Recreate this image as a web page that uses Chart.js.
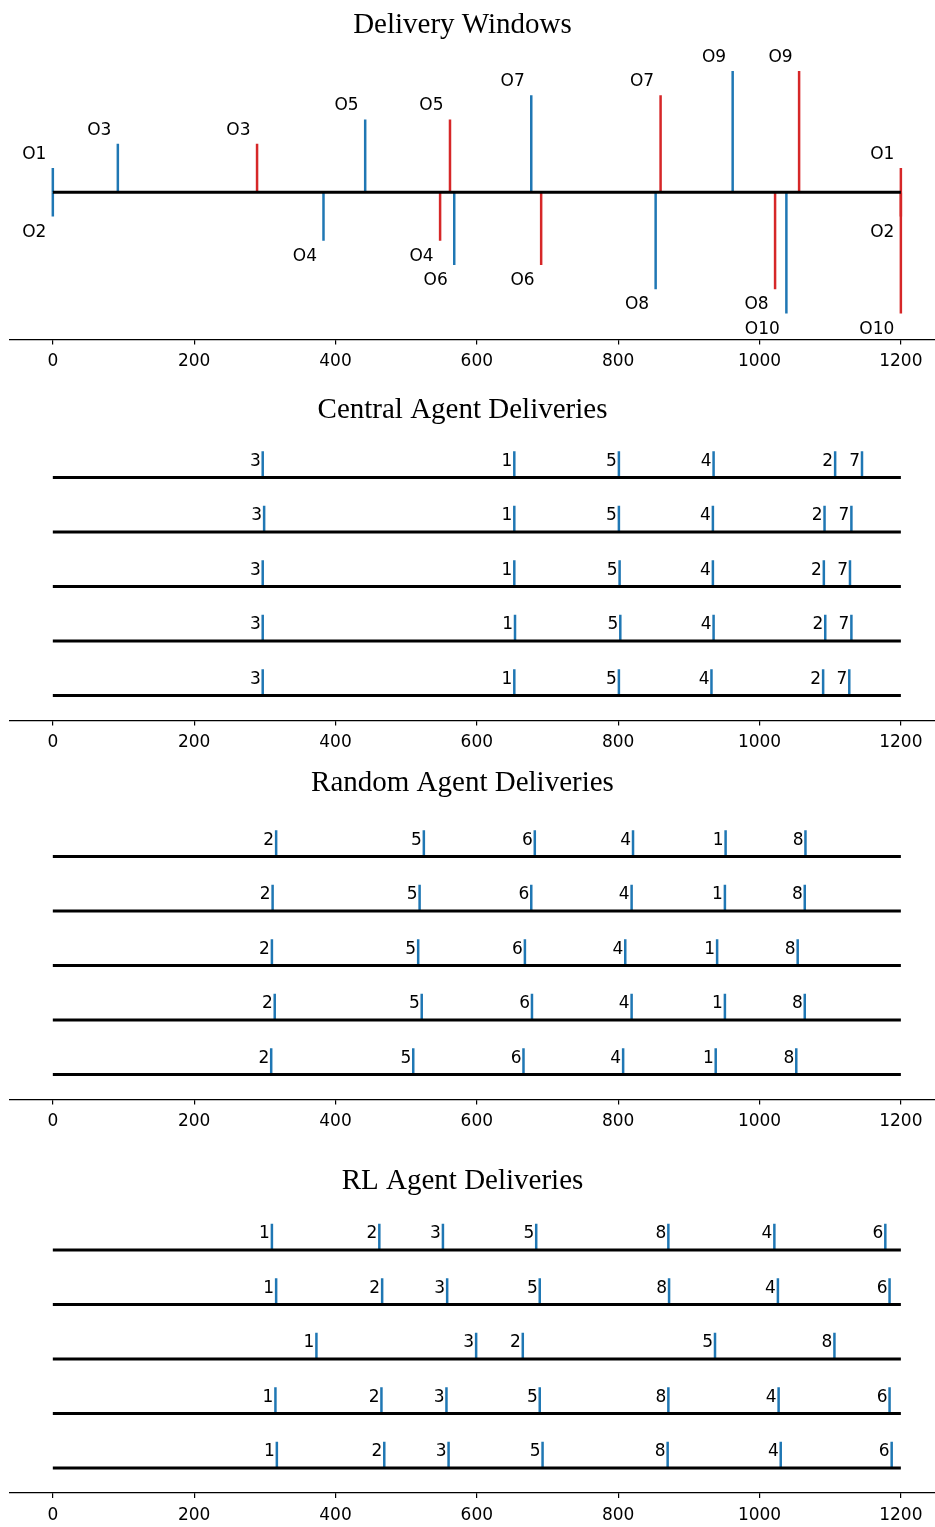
<!DOCTYPE html>
<html>
<head>
<meta charset="utf-8">
<script src="https://cdn.jsdelivr.net/npm/chart.js@4.4.1/dist/chart.umd.min.js"></script>
<style>
  html, body { margin: 0; padding: 0; background: #fff; overflow: hidden; }
  #page { position: relative; width: 935px; height: 1527px; overflow: hidden; }
  #page canvas { position: absolute; left: 0; }
</style>
</head>
<body>
<div id="page">
  <canvas id="windows"></canvas>
  <canvas id="central"></canvas>
  <canvas id="random"></canvas>
  <canvas id="rl"></canvas>
</div>
<script>
const BLUE = `#1f77b4`;
const RED = `#d62728`;

// x axis
const xTicks = [0, 200, 400, 600, 800, 1000, 1200];
const timeStart = 0;
const timeEnd = 1200;

// delivery windows: opening (blue) and closing (red) time of every order
const windowOrders = [`O1`, `O2`, `O3`, `O4`, `O5`, `O6`, `O7`, `O8`, `O9`, `O10`];
const windowLevels = [1, -1, 2, -2, 3, -3, 4, -4, 5, -5];
const windowStart = [0, 0, 92, 383, 442, 568, 677, 853, 962, 1038];
const windowEnd = [1200, 1200, 289, 548, 562, 691, 860, 1022, 1056, 1200];

// central agent: five runs, order id and delivery time
const centralOrders = [
  [3, 1, 5, 4, 2, 7],
  [3, 1, 5, 4, 2, 7],
  [3, 1, 5, 4, 2, 7],
  [3, 1, 5, 4, 2, 7],
  [3, 1, 5, 4, 2, 7]
];
const centralTimes = [
  [297, 653, 801, 935, 1107, 1145],
  [299, 653, 801, 934, 1092, 1130],
  [297, 653, 802, 934, 1091, 1128],
  [297, 654, 803, 935, 1093, 1130],
  [297, 653, 801, 932, 1090, 1127]
];

// random agent
const randomOrders = [
  [2, 5, 6, 4, 1, 8],
  [2, 5, 6, 4, 1, 8],
  [2, 5, 6, 4, 1, 8],
  [2, 5, 6, 4, 1, 8],
  [2, 5, 6, 4, 1, 8]
];
const randomTimes = [
  [316, 525, 682, 821, 952, 1065],
  [311, 519, 677, 819, 951, 1064],
  [310, 517, 668, 810, 940, 1054],
  [314, 522, 678, 819, 951, 1064],
  [309, 510, 666, 807, 938, 1052]
];

// RL agent
const rlOrders = [
  [1, 2, 3, 5, 8, 4, 6],
  [1, 2, 3, 5, 8, 4, 6],
  [1, 3, 2, 5, 8],
  [1, 2, 3, 5, 8, 4, 6],
  [1, 2, 3, 5, 8, 4, 6]
];
const rlTimes = [
  [310, 462, 552, 684, 871, 1021, 1178],
  [316, 466, 558, 689, 872, 1026, 1184],
  [373, 599, 665, 937, 1106],
  [315, 465, 557, 689, 871, 1027, 1184],
  [317, 469, 560, 693, 870, 1030, 1187]
];

const STEM_HEIGHT = 0.48;
const LABEL_FONT = `17px "DejaVu Sans"`;

const baseline = (y) => ({
  data: [{x: timeStart, y}, {x: timeEnd, y}],
  borderColor: `#000`,
  borderWidth: 3
});

const stem = (x, y0, y1, color, tag, side) => ({
  data: [{x, y: y0}, {x, y: y1}],
  borderColor: color,
  borderWidth: 2.5,
  tag,
  side
});

const windowDatasets = () => {
  const sets = [baseline(0)];
  windowOrders.forEach((name, i) => {
    const side = windowLevels[i] > 0 ? `up` : `down`;
    sets.push(stem(windowStart[i], 0, windowLevels[i], BLUE, name, side));
    sets.push(stem(windowEnd[i], 0, windowLevels[i], RED, name, side));
  });
  return sets;
};

const runDatasets = (orders, times) => {
  const sets = [];
  times.forEach((row, r) => {
    const y = times.length - r;
    sets.push(baseline(y));
    row.forEach((t, i) => {
      sets.push(stem(t, y, y + STEM_HEIGHT, BLUE, String(orders[r][i]), `row`));
    });
  });
  return sets;
};

const stemLabels = {
  id: `stemLabels`,
  afterDatasetsDraw(chart) {
    const {ctx, scales: {x, y}} = chart;
    ctx.save();
    ctx.font = LABEL_FONT;
    ctx.fillStyle = `#000`;
    ctx.textAlign = `right`;
    ctx.textBaseline = `alphabetic`;
    chart.data.datasets.forEach((ds) => {
      if (!ds.tag) {
        return;
      }
      const px = x.getPixelForValue(ds.data[1].x);
      const py = y.getPixelForValue(ds.data[1].y);
      if (ds.side === `up`) {
        ctx.fillText(ds.tag, px - 6.5, py - 9);
      } else if (ds.side === `down`) {
        ctx.fillText(ds.tag, px - 6.5, py + 20);
      } else {
        ctx.fillText(ds.tag, px - 2, y.getPixelForValue(ds.data[0].y) - 11.5);
      }
    });
    ctx.restore();
  }
};

const panelTitle = {
  id: `panelTitle`,
  afterDraw(chart, args, opts) {
    const {ctx} = chart;
    ctx.save();
    ctx.font = `29px "Liberation Serif"`;
    ctx.fillStyle = `#000`;
    ctx.textAlign = `center`;
    ctx.textBaseline = `alphabetic`;
    ctx.fillText(opts.text, opts.x, opts.y);
    ctx.restore();
  }
};

// page positions (px) of each panel
const panels = [
  {id: `windows`, title: `Delivery Windows`, top: 0, titleY: 32.5, chartTop: 46, chartBottom: 339.5,
    yMin: -6.07, yMax: 6.03, datasets: windowDatasets()},
  {id: `central`, title: `Central Agent Deliveries`, top: 380, titleY: 417.5, chartTop: 450.25, chartBottom: 720.5,
    yMin: 0.54, yMax: 5.5, datasets: runDatasets(centralOrders, centralTimes)},
  {id: `random`, title: `Random Agent Deliveries`, top: 755, titleY: 790.5, chartTop: 829.25, chartBottom: 1099.5,
    yMin: 0.54, yMax: 5.5, datasets: runDatasets(randomOrders, randomTimes)},
  {id: `rl`, title: `RL Agent Deliveries`, top: 1140, titleY: 1188.5, chartTop: 1222.75, chartBottom: 1493,
    yMin: 0.54, yMax: 5.5, datasets: runDatasets(rlOrders, rlTimes)}
];

const AXIS_HEIGHT = 40;

panels.forEach((p) => {
  const canvas = document.getElementById(p.id);
  const height = Math.ceil(p.chartBottom - p.top + AXIS_HEIGHT);
  canvas.width = 935;
  canvas.height = height;
  canvas.style.top = `${p.top}px`;

  new Chart(canvas, {
    type: `scatter`,
    plugins: [stemLabels, panelTitle],
    data: {
      datasets: p.datasets.map((ds) => Object.assign({
        showLine: true,
        pointRadius: 0,
        pointHoverRadius: 0,
        borderCapStyle: `butt`,
        fill: false
      }, ds))
    },
    options: {
      responsive: false,
      animation: false,
      devicePixelRatio: 1,
      events: [],
      layout: {
        padding: {
          left: 10,
          right: 0,
          top: p.chartTop - p.top,
          bottom: height - AXIS_HEIGHT - (p.chartBottom - p.top)
        }
      },
      plugins: {
        legend: {display: false},
        tooltip: {enabled: false},
        title: {display: false},
        panelTitle: {text: p.title, x: 462.5, y: p.titleY - p.top}
      },
      scales: {
        x: {
          type: `linear`,
          min: -60.6,
          max: 1248.3,
          afterBuildTicks: (scale) => {
            scale.ticks = xTicks.map((v) => ({value: v}));
          },
          afterFit: (scale) => {
            scale.height = AXIS_HEIGHT;
          },
          border: {display: true, color: `#000`, width: 1.2},
          grid: {drawOnChartArea: false, drawTicks: true, tickLength: 5, color: `#000`, lineWidth: 1.2},
          ticks: {
            autoSkip: false,
            maxRotation: 0,
            padding: 7,
            color: `#000`,
            font: {family: `"DejaVu Sans"`, size: 17},
            callback: (v) => String(v)
          }
        },
        y: {
          type: `linear`,
          display: false,
          min: p.yMin,
          max: p.yMax
        }
      }
    }
  });
});
</script>
</body>
</html>
